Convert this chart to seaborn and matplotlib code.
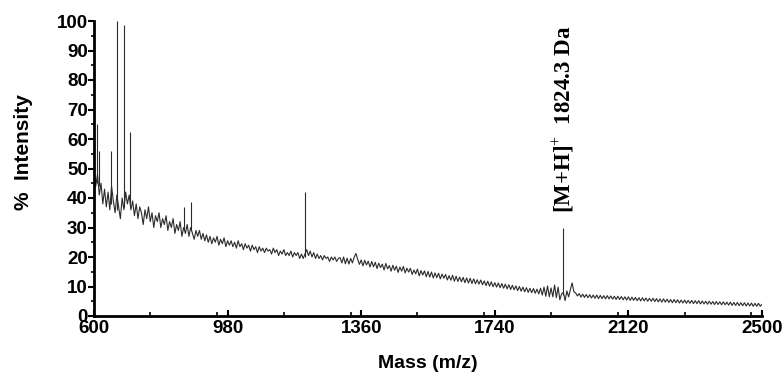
import numpy as np
import pandas as pd
import matplotlib
matplotlib.use("Agg")
import matplotlib.pyplot as plt
from matplotlib import font_manager
from matplotlib.ticker import MultipleLocator
import seaborn as sns

# ---------------- data ----------------
mass_start, mass_stop, mass_step = 600, 2500, 5

intensity = [
    # 600-695
    50, 44, 48, 41, 45, 38, 43, 37, 42, 36, 44, 39, 35, 41, 37, 33, 40, 36, 42, 38,
    # 700-795
    41, 36, 39, 34, 38, 33, 37, 35, 31, 36, 33, 37, 32, 35, 30, 34, 32, 35, 30, 33,
    # 800-895
    31, 34, 29, 32, 30, 33, 28, 31, 29, 32, 27, 30, 28, 31, 27, 30, 28, 26, 29, 27,
    # 900-995
    29, 26, 28, 25.5, 27.5, 25, 27, 24.5, 26.5, 25, 27, 24, 26, 24.5, 26.5, 23.5, 25.5, 24, 25.5, 23.5,
    # 1000-1095
    25, 23, 25.5, 23.5, 24.5, 22.5, 24.5, 23, 24, 22, 24, 22.5, 23.5, 21.5, 23.5, 22, 23, 21.5, 23, 22,
    # 1100-1195
    22.5, 21, 23, 21.5, 22.5, 20.5, 22, 21, 22.5, 20.5, 21.5, 20.5, 22, 20, 21.5, 20.5, 21.5, 19.5, 21, 19.5,
    # 1200-1295
    21, 22.5, 20.5, 22, 20, 21.5, 19.5, 21, 19.5, 20.5, 19, 20.5, 19.5, 20, 18.5, 20, 19, 20, 18.5, 19.5,
    # 1300-1395
    19.8, 18, 20, 17.7, 19.6, 17.6, 19.5, 18, 19.9, 21.2, 19.2, 17.5, 19, 17, 18.9, 17.3, 18.6, 16.6, 18.5, 16.7,
    # 1400-1495
    18.2, 16.1, 17.9, 16.4, 17.6, 15.6, 17.8, 16, 17.1, 15.2, 17.2, 15.5, 16.9, 14.8, 16.6, 15.2, 16.8, 14.6, 16.2, 14.9,
    # 1500-1595
    16.2, 14.1, 15.6, 14.3, 15.9, 13.6, 15.4, 13.9, 15.3, 13.3, 15.1, 13.2, 14.9, 12.9, 14.6, 13, 14.5, 12.6, 14.2, 12.8,
    # 1600-1695
    14.1, 12.2, 13.7, 12.1, 13.8, 11.8, 13.5, 11.7, 13.2, 11.6, 13.1, 11.3, 12.9, 11.2, 12.8, 11, 12.6, 10.9, 12.3, 10.8,
    # 1700-1795
    12.2, 10.6, 11.9, 10.3, 11.8, 10.1, 11.6, 9.9, 11.3, 9.8, 11.2, 9.6, 11, 9.4, 10.8, 9.2, 10.6, 9, 10.4, 8.9,
    # 1800-1895
    10.2, 8.6, 10, 8.4, 9.8, 8.2, 9.6, 8, 9.4, 7.9, 9.3, 7.7, 9.1, 7.5, 9.4, 7.1, 9.8, 6.7, 10.2, 6.5,
    # 1900-1995
    9.5, 6.5, 10.5, 6.2, 9.8, 5.5, 7.5, 8, 5.2, 8.5, 6.5, 9, 11.2, 8.2, 7.8, 6.8, 7.6, 6.4, 7.4, 6.3,
    # 2000-2095
    7.3, 6.2, 7.2, 6.1, 7.1, 6, 7.1, 5.9, 7, 5.9, 6.9, 5.8, 6.9, 5.8, 6.8, 5.7, 6.7, 5.6, 6.7, 5.6,
    # 2100-2195
    6.6, 5.5, 6.5, 5.4, 6.5, 5.3, 6.4, 5.3, 6.3, 5.2, 6.2, 5.1, 6.2, 5.1, 6.1, 5, 6, 5, 6, 4.9,
    # 2200-2295
    5.9, 4.8, 5.8, 4.7, 5.8, 4.7, 5.7, 4.6, 5.6, 4.5, 5.6, 4.5, 5.5, 4.4, 5.4, 4.4, 5.4, 4.3, 5.3, 4.3,
    # 2300-2395
    5.3, 4.2, 5.2, 4.2, 5.2, 4.1, 5.1, 4.1, 5, 4, 5, 4, 4.9, 3.9, 4.9, 3.9, 4.8, 3.8, 4.8, 3.8,
    # 2400-2500
    4.7, 3.7, 4.7, 3.6, 4.6, 3.6, 4.6, 3.5, 4.5, 3.5, 4.5, 3.4, 4.4, 3.4, 4.4, 3.3, 4.3, 3.3, 4.3, 3.3, 4.0,
]

# sharp peaks: apex mass, apex height, local baseline
peak_mass = [608, 614, 648, 665, 686, 702, 857, 876, 1200, 1934]
peak_height = [65, 56, 56, 100, 98.5, 62.5, 37, 38.5, 42, 30]
peak_base = [45, 44, 38, 36, 37, 38, 29, 29, 20, 7]

x_ticks = [600, 980, 1360, 1740, 2120, 2500]
y_ticks = [0, 10, 20, 30, 40, 50, 60, 70, 80, 90, 100]

annotation_text = "[M+H]$^{+}$  1824.3 Da"
annotation_mass = 1934

# ---------------- fonts ----------------
sns.set_theme(style="white")
available = {f.name for f in font_manager.fontManager.ttflist}
if "Liberation Sans Narrow" in available:
    sans = "Liberation Sans Narrow"
elif "Liberation Sans" in available:
    sans = "Liberation Sans"
else:
    sans = "DejaVu Sans"
serif = "Liberation Serif" if "Liberation Serif" in available else "DejaVu Serif"
plt.rcParams["font.family"] = [sans, "DejaVu Sans"]
plt.rcParams["mathtext.fontset"] = "custom"
plt.rcParams["mathtext.rm"] = serif
plt.rcParams["mathtext.bf"] = serif + ":bold"

mass = np.arange(mass_start, mass_stop + 1, mass_step)
df = pd.DataFrame({"mass": mass, "intensity": intensity})

fig = plt.figure(figsize=(7.84, 3.83), dpi=100)
ax = fig.add_axes([94 / 784, 1 - 316 / 383, (762 - 94) / 784, (316 - 21) / 383])

line_color = "#2b2b2b"
sns.lineplot(data=df, x="mass", y="intensity", ax=ax, color=line_color,
             linewidth=0.8, estimator=None, sort=True)
ax.vlines(peak_mass, peak_base, peak_height, color=line_color, linewidth=0.8)

ax.set_xlim(mass_start, mass_stop)
ax.set_ylim(0, 100)
ax.set_xticks(x_ticks)
ax.set_yticks(y_ticks)
ax.xaxis.set_minor_locator(MultipleLocator(190))
ax.yaxis.set_minor_locator(MultipleLocator(5))

for side in ["top", "right"]:
    ax.spines[side].set_visible(False)
for side in ["left", "bottom"]:
    ax.spines[side].set_linewidth(2)
    ax.spines[side].set_color("black")

ax.tick_params(axis="y", which="major", direction="out", length=4, width=1.5,
               color="black", left=True, pad=0.5)
ax.tick_params(axis="y", which="minor", direction="out", length=2.5, width=1.2,
               color="black", left=True)
ax.tick_params(axis="x", which="major", direction="in", length=4, width=1.5,
               color="black", bottom=True, pad=3)
ax.tick_params(axis="x", which="minor", direction="in", length=3, width=1.2,
               color="black", bottom=True)

for lab in ax.get_xticklabels() + ax.get_yticklabels():
    lab.set_fontsize(13.5)
    lab.set_fontweight("bold")
    lab.set_color("black")

ax.set_xlabel("Mass (m/z)", fontsize=14, fontweight="bold", color="black", labelpad=13)
ax.set_ylabel("%  Intensity", fontsize=15, fontweight="bold", color="black")
ax.yaxis.set_label_coords(-0.091, 0.556)

ax.text(annotation_mass, 35, annotation_text, rotation=90, ha="center", va="bottom",
        fontsize=16.5, fontweight="bold", family=serif, color="black")

ax.set_facecolor("white")
fig.patch.set_facecolor("white")
fig.savefig("out.png", dpi=100)
